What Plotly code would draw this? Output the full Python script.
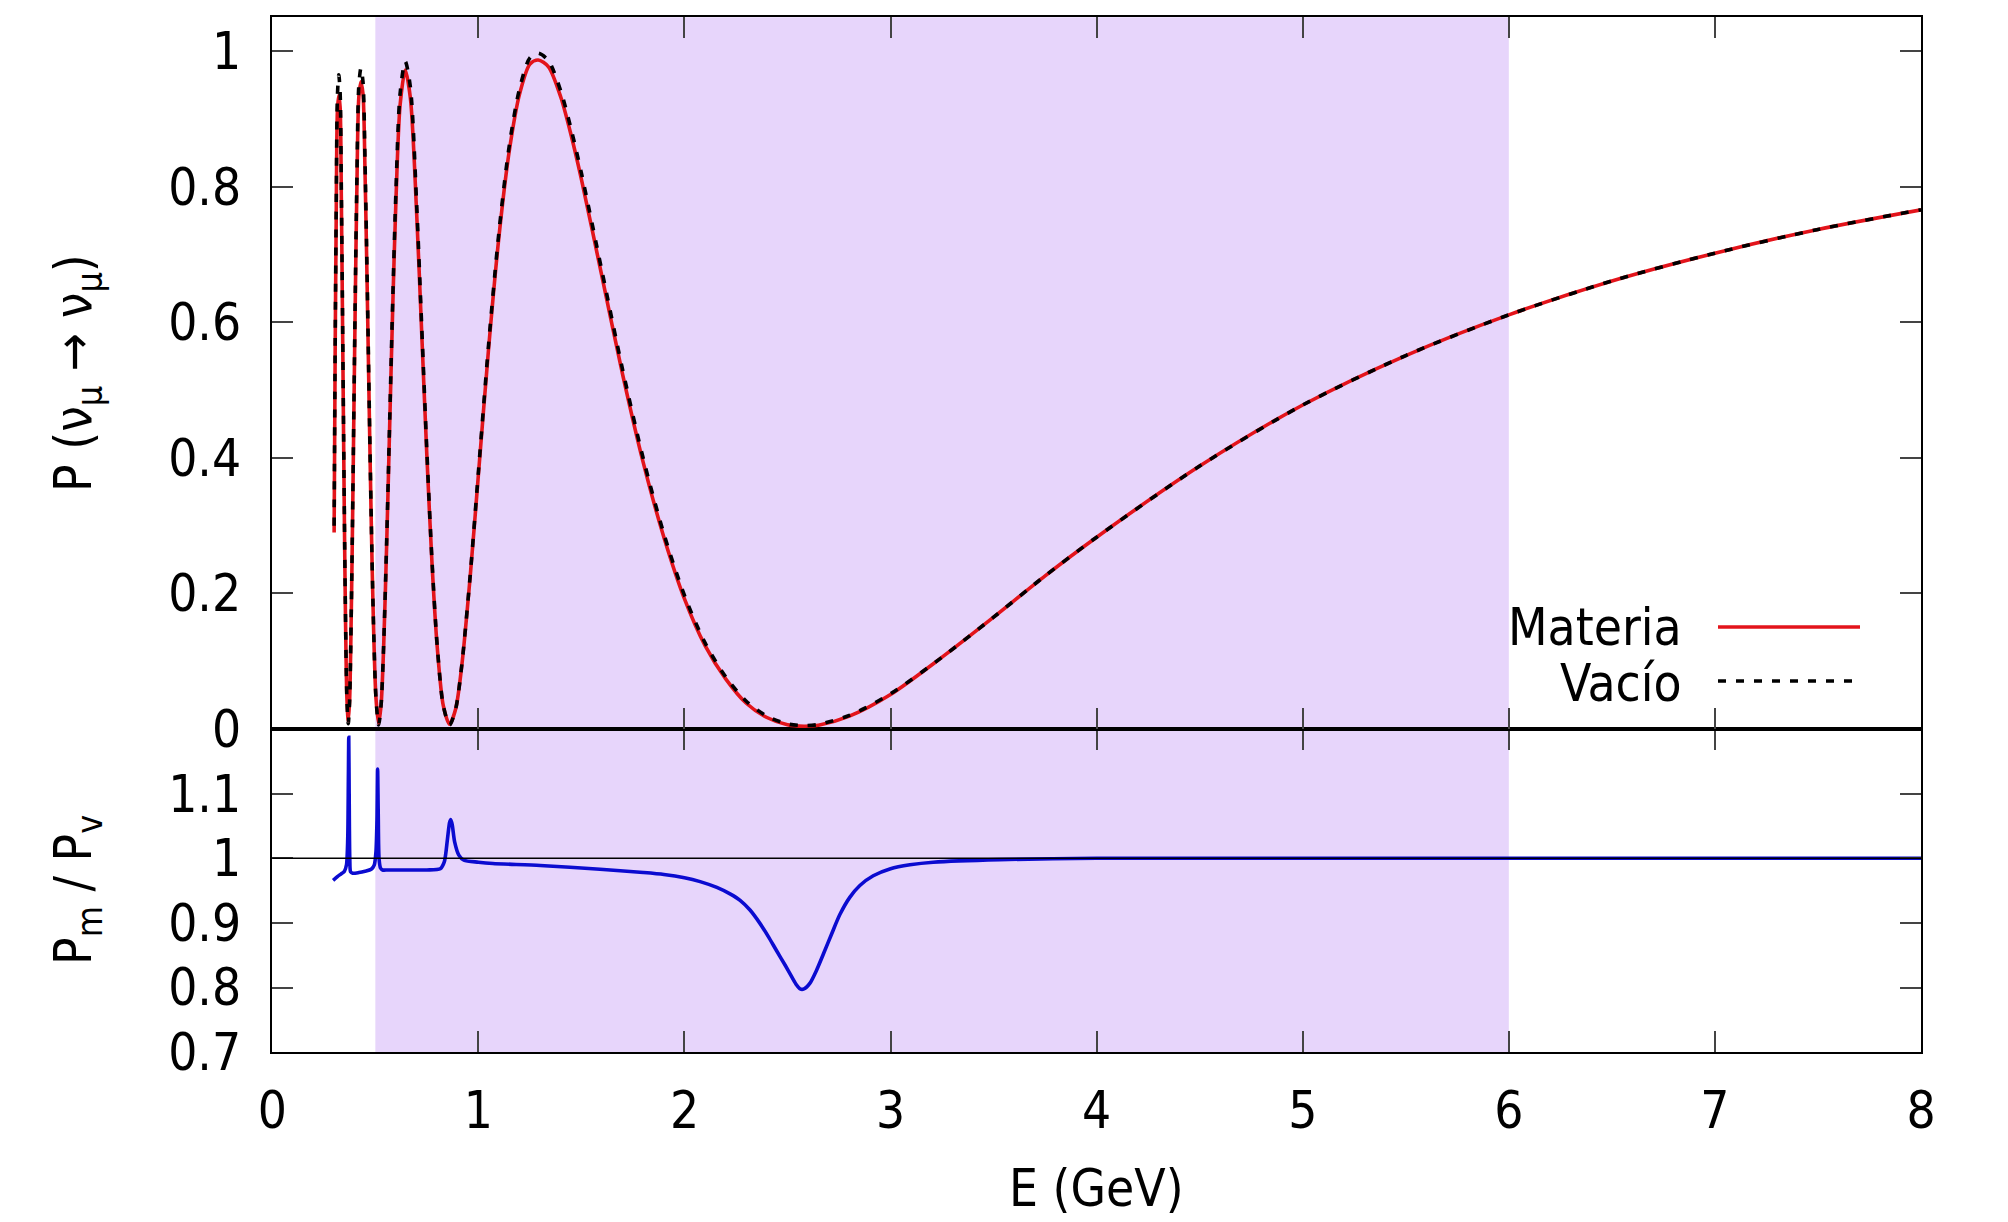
import plotly.graph_objects as go

# ---------------- data ----------------
energy = [0.300, 0.305, 0.310, 0.316, 0.3225, 0.329, 0.335, 0.340, 0.345, 0.350,
          0.355, 0.362, 0.3686, 0.375, 0.380, 0.388, 0.395, 0.403, 0.410, 0.420,
          0.430, 0.440, 0.450, 0.460, 0.470, 0.480, 0.490, 0.503, 0.516, 0.528,
          0.540, 0.555, 0.570, 0.585, 0.600, 0.620, 0.645, 0.670, 0.700, 0.725,
          0.750, 0.775, 0.800, 0.830, 0.860, 0.890, 0.920, 0.960, 1.000, 1.050,
          1.100, 1.150, 1.200, 1.250, 1.290, 1.340, 1.400, 1.450, 1.500, 1.600,
          1.700, 1.800, 1.900, 2.000, 2.100, 2.200, 2.300, 2.400, 2.500, 2.580,
          2.650, 2.800, 3.000, 3.250, 3.500, 3.750, 4.000, 4.500, 5.000, 5.500,
          6.000, 6.500, 7.000, 7.500, 8.000]

p_vacio = [0.300, 0.565, 0.764, 0.934, 0.965, 0.940, 0.798, 0.640, 0.470, 0.308,
           0.171, 0.045, 0.008, 0.040, 0.110, 0.277, 0.452, 0.652, 0.803, 0.950,
           0.975, 0.955, 0.836, 0.670, 0.486, 0.313, 0.168, 0.046, 0.006, 0.036,
           0.121, 0.278, 0.461, 0.640, 0.794, 0.937, 0.985, 0.947, 0.777, 0.594,
           0.410, 0.248, 0.124, 0.034, 0.006, 0.030, 0.096, 0.226, 0.379, 0.569,
           0.734, 0.861, 0.945, 0.990, 0.997, 0.986, 0.941, 0.885, 0.820, 0.675,
           0.530, 0.399, 0.288, 0.197, 0.127, 0.077, 0.041, 0.019, 0.0075, 0.005,
           0.0067, 0.020, 0.052, 0.106, 0.165, 0.226, 0.283, 0.388, 0.478, 0.551,
           0.611, 0.661, 0.702, 0.737, 0.766]

p_materia = [0.290, 0.555, 0.750, 0.912, 0.935, 0.918, 0.783, 0.628, 0.461, 0.302,
             0.168, 0.046, 0.012, 0.041, 0.108, 0.272, 0.444, 0.640, 0.789, 0.933,
             0.955, 0.937, 0.821, 0.658, 0.478, 0.308, 0.166, 0.046, 0.008, 0.036,
             0.119, 0.273, 0.453, 0.629, 0.780, 0.920, 0.972, 0.931, 0.764, 0.584,
             0.403, 0.244, 0.122, 0.034, 0.007, 0.030, 0.095, 0.224, 0.375, 0.563,
             0.727, 0.853, 0.937, 0.981, 0.987, 0.977, 0.932, 0.876, 0.811, 0.667,
             0.523, 0.393, 0.283, 0.192, 0.123, 0.074, 0.038, 0.017, 0.0062, 0.004,
             0.0056, 0.019, 0.051, 0.106, 0.165, 0.226, 0.283, 0.388, 0.478, 0.551,
             0.611, 0.661, 0.702, 0.737, 0.766]

ratio_energy = [0.295, 0.310, 0.325, 0.339, 0.350, 0.360, 0.366, 0.369, 0.371, 0.373,
                0.376, 0.380, 0.390, 0.420, 0.450, 0.480, 0.495, 0.503, 0.508, 0.511,
                0.514, 0.518, 0.525, 0.535, 0.560, 0.650, 0.750, 0.815, 0.835, 0.850,
                0.860, 0.866, 0.873, 0.885, 0.905, 0.930, 1.000, 1.070, 1.300, 1.590,
                1.800, 1.900, 2.000, 2.076, 2.157, 2.221, 2.270, 2.318, 2.367, 2.407,
                2.447, 2.488, 2.520, 2.544, 2.561, 2.580, 2.609, 2.641, 2.674, 2.714,
                2.754, 2.803, 2.851, 2.916, 3.000, 3.094, 3.207, 3.530, 4.000, 5.000,
                6.000, 7.000, 8.000]

ratio_values = [0.966, 0.970, 0.974, 0.977, 0.980, 0.990, 1.030, 1.120, 1.187, 1.100,
                1.000, 0.979, 0.977, 0.978, 0.980, 0.983, 0.990, 1.010, 1.060, 1.138,
                1.070, 1.000, 0.985, 0.982, 0.982, 0.982, 0.982, 0.984, 0.995, 1.030,
                1.055, 1.060, 1.052, 1.025, 1.005, 0.997, 0.994, 0.992, 0.989, 0.983,
                0.978, 0.975, 0.970, 0.964, 0.955, 0.945, 0.935, 0.920, 0.899, 0.879,
                0.857, 0.835, 0.817, 0.804, 0.798, 0.798, 0.807, 0.827, 0.852, 0.883,
                0.913, 0.940, 0.958, 0.973, 0.984, 0.990, 0.994, 0.998, 1.000, 1.000,
                1.000, 1.000, 1.000]

x_ticks = [0, 1, 2, 3, 4, 5, 6, 7, 8]
x_tick_labels = ["0", "1", "2", "3", "4", "5", "6", "7", "8"]
p_ticks = [0, 0.2, 0.4, 0.6, 0.8, 1.0]
p_tick_labels = ["0", "0.2", "0.4", "0.6", "0.8", "1"]
r_ticks = [0.7, 0.8, 0.9, 1.0, 1.1]
r_tick_labels = ["0.7", "0.8", "0.9", "1", "1.1"]
band_range = [0.5, 6.0]
ratio_reference = 1.0

# ---------------- styling ----------------
W, H = 2008, 1222
FONT = "DejaVu Sans Condensed, DejaVu Sans"
FS = 51
LW = 3.6
x_dom = [272.3 / W, 1921 / W]
top_dom = [1 - 729 / H, 1 - 17.3 / H]
bot_dom = [1 - 1052.3 / H, 1 - 729 / H]

RED = "#e3141b"
BLUE = "#0b0bd0"

fig = go.Figure()

fig.add_trace(go.Scatter(x=energy, y=p_materia, xaxis="x2", yaxis="y2", mode="lines",
                         line=dict(color=RED, width=LW, shape="spline", smoothing=0.8),
                         name="Materia", showlegend=False))
fig.add_trace(go.Scatter(x=energy, y=p_vacio, xaxis="x2", yaxis="y2", mode="lines",
                         line=dict(color="black", width=LW, dash="8px,10px",
                                   shape="spline", smoothing=0.8),
                         name="Vacío", showlegend=False))
fig.add_trace(go.Scatter(x=ratio_energy, y=ratio_values, xaxis="x", yaxis="y", mode="lines",
                         line=dict(color=BLUE, width=LW, shape="spline", smoothing=0.7),
                         name="Pm/Pv", showlegend=False))

axis_common = dict(showline=True, linecolor="black", linewidth=2, mirror="ticks",
                   ticks="inside", ticklen=21, tickwidth=1.5, tickcolor="#444444",
                   showgrid=False, zeroline=False, automargin=False,
                   tickfont=dict(family=FONT, size=FS, color="black"))

fig.update_layout(
    template="none",
    width=W, height=H,
    margin=dict(l=0, r=0, t=0, b=0, pad=0, autoexpand=False),
    paper_bgcolor="white", plot_bgcolor="white",
    font=dict(family=FONT, size=FS, color="black"),
    xaxis=dict(domain=x_dom, anchor="y", range=[0, 8], tickvals=x_ticks,
               ticktext=x_tick_labels, ticklabelstandoff=12, **axis_common),
    yaxis=dict(domain=bot_dom, anchor="x", range=[0.7, 1.2], tickvals=r_ticks,
               ticktext=r_tick_labels, ticklabelstandoff=19, **axis_common),
    xaxis2=dict(domain=x_dom, anchor="y2", range=[0, 8], matches="x", tickvals=x_ticks,
                showticklabels=False, **axis_common),
    yaxis2=dict(domain=top_dom, anchor="x2", range=[0, 1.05], tickvals=p_ticks,
                ticktext=p_tick_labels, ticklabelstandoff=19, **axis_common),
)

shapes = [
    dict(type="rect", xref="x", yref="paper", x0=band_range[0], x1=band_range[1],
         y0=bot_dom[0], y1=top_dom[1], fillcolor="#e7d5fb", line=dict(width=0),
         layer="below"),
    dict(type="line", xref="paper", yref="y", x0=x_dom[0], x1=x_dom[1],
         y0=ratio_reference, y1=ratio_reference, line=dict(color="black", width=1.6)),
    # legend samples
    dict(type="line", xref="paper", yref="paper", x0=1718 / W, x1=1860 / W,
         y0=1 - 627 / H, y1=1 - 627 / H, line=dict(color=RED, width=LW)),
    dict(type="line", xref="paper", yref="paper", x0=1718 / W, x1=1860 / W,
         y0=1 - 681 / H, y1=1 - 681 / H,
         line=dict(color="black", width=LW, dash="8px,10px")),
]
fig.update_layout(shapes=shapes)

annotations = [
    dict(text="Materia", x=1684 / W, y=1 - 627 / H, xref="paper", yref="paper",
         xanchor="right", yanchor="middle", showarrow=False,
         font=dict(family=FONT, size=FS)),
    dict(text="Vacío", x=1684 / W, y=1 - 683 / H, xref="paper", yref="paper",
         xanchor="right", yanchor="middle", showarrow=False,
         font=dict(family=FONT, size=FS)),
    dict(text="P (ν<sub>μ</sub> → ν<sub>μ</sub>)", x=77 / W, y=1 - 373 / H,
         xref="paper", yref="paper", xanchor="center", yanchor="middle",
         textangle=-90, showarrow=False, font=dict(family=FONT, size=FS)),
    dict(text="P<sub>m</sub> / P<sub>v</sub>", x=77 / W, y=1 - 890 / H,
         xref="paper", yref="paper", xanchor="center", yanchor="middle",
         textangle=-90, showarrow=False, font=dict(family=FONT, size=FS)),
    dict(text="E (GeV)", x=1096.5 / W, y=1 - 1188 / H, xref="paper", yref="paper",
         xanchor="center", yanchor="middle", showarrow=False,
         font=dict(family=FONT, size=FS)),
]
fig.update_layout(annotations=annotations)

fig.write_html("out.html")
